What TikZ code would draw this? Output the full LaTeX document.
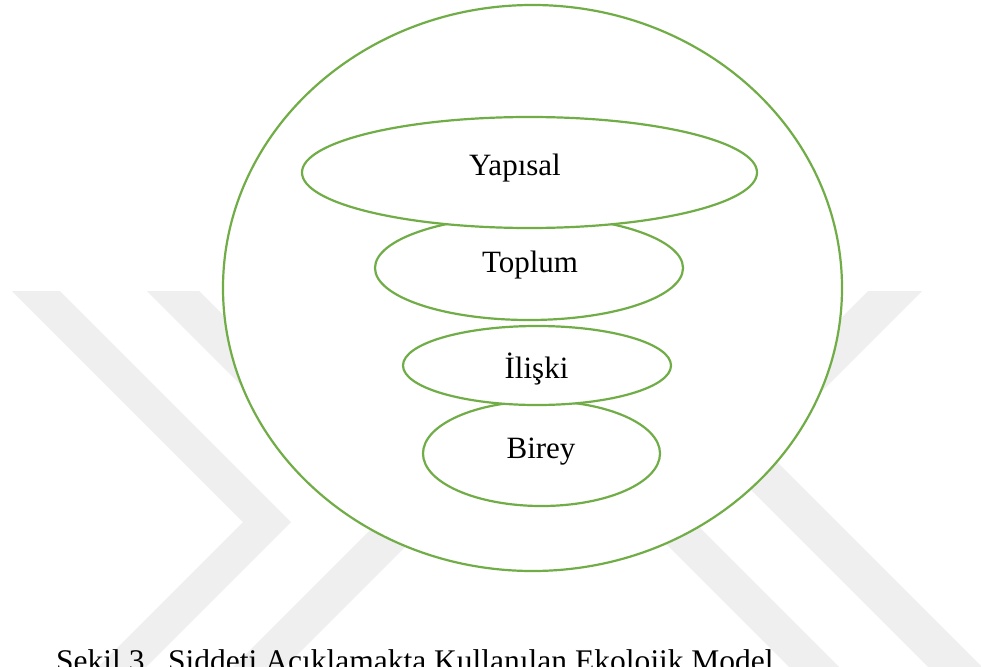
\documentclass[tikz,border=0pt]{standalone}
\usepackage{fontspec}
\setmainfont{Liberation Serif}
\usetikzlibrary{shapes.geometric}
\definecolor{ringgreen}{RGB}{112,173,71}
\definecolor{wmgray}{RGB}{239,239,239}
\begin{document}
\begin{tikzpicture}[x=1pt,y=-1pt,
  ring/.style={ellipse, draw=ringgreen, line width=2.2pt, fill=white, inner sep=0pt},
  lbl/.style={anchor=base, font=\fontsize{31}{37}\selectfont, inner sep=0pt},
  wm/.style={fill=wmgray}]
\useasboundingbox (0,0) rectangle (981,666);
\clip (0,0) rectangle (981,666);
\fill[white] (0,0) rectangle (981,666);
% watermark, left chevrons ">"
\foreach \cx/\vy/\w in {243/522/48, 378/522/52} {
  \fill[wm] ({\cx-(\vy-291)},291) -- ({\cx-(\vy-291)+\w},291) -- ({\cx+\w},\vy)
    -- ({\cx+\w-(700-\vy)},700) -- ({\cx-(700-\vy)},700) -- (\cx,\vy) -- cycle;
}
% watermark, right chevrons "<"
\foreach \cx/\vy/\w in {764/449/54, 621/449/50} {
  \fill[wm] ({\cx+(\vy-291)},291) -- ({\cx+(\vy-291)-\w},291) -- ({\cx-\w},\vy)
    -- ({\cx-\w+(700-\vy)},700) -- ({\cx+(700-\vy)},700) -- (\cx,\vy) -- cycle;
}
% rings
\node[ring, minimum width=619pt, minimum height=566pt] (outer) at (532.5,288) {};
\node[ring, minimum width=237pt, minimum height=105pt] (birey) at (541.5,453.5) {};
\node[ring, minimum width=268pt, minimum height=79pt] (iliski) at (537,365.5) {};
\node[ring, minimum width=308pt, minimum height=104pt] (toplum) at (529,268) {};
\node[ring, minimum width=455pt, minimum height=111pt] (yapisal) at (529.5,172.5) {};
% labels
\node[lbl] (tyapisal) at (515,175) {Yapısal};
\node[lbl] (ttoplum) at (530,272) {Toplum};
\node[lbl] (tiliski) at (536.5,378) {İlişki};
\node[lbl] (tbirey) at (541,458) {Birey};
% caption
\node[anchor=base west, font=\fontsize{31.5}{38}\selectfont, inner sep=0pt] (caption) at (56,671)
  {Şekil 3.\ \ Şiddeti Açıklamakta Kullanılan Ekolojik Model};
\end{tikzpicture}
\end{document}
